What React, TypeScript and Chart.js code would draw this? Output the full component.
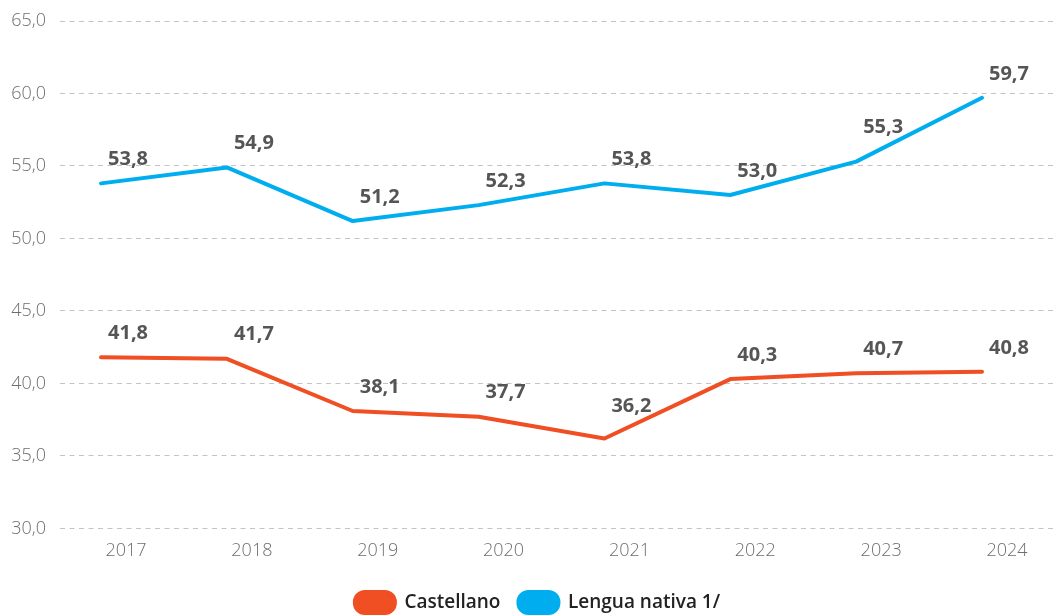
import React, { useEffect, useRef } from "react";
import { Chart, registerables } from "chart.js";

Chart.register(...registerables);

const years = ["2017", "2018", "2019", "2020", "2021", "2022", "2023", "2024"];
const castellano = [41.8, 41.7, 38.1, 37.7, 36.2, 40.3, 40.7, 40.8];
const lenguaNativa = [53.8, 54.9, 51.2, 52.3, 53.8, 53.0, 55.3, 59.7];
const seriesNames = ["Castellano", "Lengua nativa 1/"];
const yTicks = [30, 35, 40, 45, 50, 55, 60, 65];

const RED = "#F04E23";
const BLUE = "#00AEEF";
const fmt = (v: number) => v.toFixed(1).replace(".", ",");

const valueLabels = {
  id: "valueLabels",
  afterDatasetsDraw(chart: any) {
    const ctx = chart.ctx;
    ctx.save();
    ctx.font = "bold 20px 'Open Sans'";
    ctx.fillStyle = "#555555";
    ctx.textAlign = "center";
    ctx.textBaseline = "middle";
    chart.data.datasets.forEach((ds: any, di: number) => {
      const meta = chart.getDatasetMeta(di);
      meta.data.forEach((pt: any, i: number) => {
        let dy = -24;
        const next = meta.data[i + 1];
        if (next) {
          const slope = (next.y - pt.y) / (next.x - pt.x);
          dy = Math.min(dy, slope * 48 - 10);
        }
        ctx.fillText(fmt(ds.data[i].y), pt.x + 27, pt.y + dy);
      });
    });
    ctx.restore();
  },
};

const shiftLegend = {
  id: "shiftLegend",
  afterLayout(chart: any) {
    if (chart.legend) {
      chart.legend.left += 10;
      chart.legend.right += 10;
    }
  },
};

export default function App() {
  const ref = useRef<HTMLCanvasElement>(null);
  useEffect(() => {
    if (!ref.current) return;
    const chart = new Chart(ref.current, {
      type: "line",
      data: {
        datasets: [
          {
            label: seriesNames[0],
            data: castellano.map((v, i) => ({ x: i, y: v })),
            borderColor: RED,
            backgroundColor: RED,
            borderWidth: 4,
            pointRadius: 0,
            tension: 0,
            borderCapStyle: "round",
            borderJoinStyle: "round",
          },
          {
            label: seriesNames[1],
            data: lenguaNativa.map((v, i) => ({ x: i, y: v })),
            borderColor: BLUE,
            backgroundColor: BLUE,
            borderWidth: 4,
            pointRadius: 0,
            tension: 0,
            borderCapStyle: "round",
            borderJoinStyle: "round",
          },
        ],
      },
      options: {
        animation: false,
        responsive: true,
        maintainAspectRatio: false,
        layout: { padding: { left: 0, right: 6, top: 21, bottom: 0 } },
        plugins: {
          tooltip: { enabled: false },
          legend: {
            position: "bottom",
            labels: {
              boxWidth: 40,
              boxHeight: 21,
              useBorderRadius: true,
              borderRadius: 10,
              padding: 18,
              color: "#222222",
              font: { family: "'Open Sans'", size: 19, weight: "600" },
            },
          },
        },
        scales: {
          x: {
            type: "linear",
            min: -0.326,
            max: 7.58,
            grid: { display: false, drawTicks: false },
            border: { display: false },
            afterBuildTicks: (scale: any) => {
              scale.ticks = years.map((_, i) => ({ value: i }));
            },
            afterFit: (scale: any) => {
              scale.paddingLeft = 0;
              scale.paddingRight = 0;
            },
            ticks: {
              callback: (v: any) => years[v as number],
              labelOffset: 25,
              padding: 12,
              color: "#6e6e6e",
              font: { family: "'Open Sans'", size: 18, weight: "300" },
              maxRotation: 0,
            },
          },
          y: {
            min: 30,
            max: 65,
            afterBuildTicks: (scale: any) => {
              scale.ticks = yTicks.map((v) => ({ value: v }));
            },
            afterFit: (scale: any) => {
              scale.width = 60;
              scale.paddingTop = 0;
              scale.paddingBottom = 0;
            },
            grid: { color: "#c4c4c4", lineWidth: 1, drawTicks: false },
            border: { display: false, dash: [5, 4.5] },
            ticks: {
              callback: (v: any) => fmt(Number(v)),
              padding: 14,
              color: "#6e6e6e",
              font: { family: "'Open Sans'", size: 18, weight: "300" },
            },
          },
        },
      },
      plugins: [valueLabels, shiftLegend],
    } as any);
    return () => chart.destroy();
  }, []);
  return (
    <div style={{ position: "absolute", left: 0, top: 0, width: 1061, height: 615, overflow: "hidden" }}>
      <div style={{ position: "relative", width: 1061, height: 623 }}>
        <canvas ref={ref} />
      </div>
    </div>
  );
}
